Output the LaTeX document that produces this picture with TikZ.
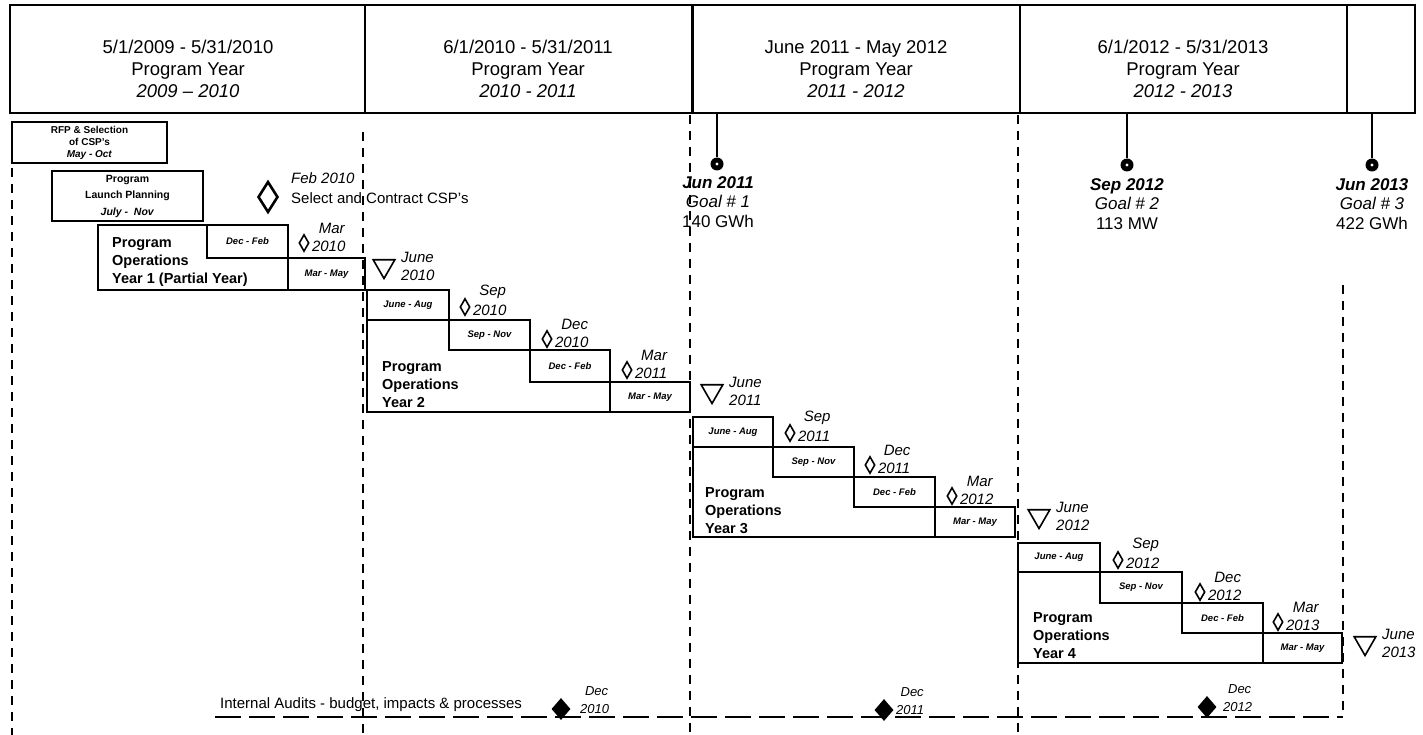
\documentclass[tikz,border=0pt]{standalone}
\usepackage{fontspec}
\setmainfont{Liberation Sans}
\usetikzlibrary{shapes.geometric}
\newcommand{\tbox}[6]{\node[tinybox, minimum width={(#4-#2)*1pt}, minimum height={(#5-#3)*1pt}] (#1) at ({(#2+#4)/2},{(#3+#5)/2}) {#6};}
\newcommand{\hcell}[5]{\node[hdrcell, minimum width={(#4-#2)*1pt}, minimum height={(#5-#3)*1pt}] (#1) at ({(#2+#4)/2},{(#3+#5)/2}) {};}
\newcommand{\msd}[5]{%
  \node[msdia] (#1) at (#2,#3) {};
  \node[mstxt, anchor=west] (#1y) at ([xshift=2pt,yshift=-3pt]#1.east) {#5};
  \node[mstxt] (#1m) at ([xshift=3pt,yshift=18pt]#1y.center) {#4};}
\newcommand{\trim}[4]{%
  \node[tri] (#1) at (#2,#3) {};
  \node[mstxt, anchor=west] (#1m) at ([xshift=17pt,yshift=9pt]#1.center) {June};
  \node[mstxt, anchor=west] (#1y) at ([xshift=17pt,yshift=-9pt]#1.center) {#4};}
\newcommand{\audit}[5]{%
  \node[auddia] (#1) at (#2,#3) {};
  \node[audtxt, anchor=west] (#1y) at ([xshift=#5]#1.center) {#4};
  \node[audtxt] (#1m) at ([xshift=2pt,yshift=18pt]#1y.center) {Dec};}
\begin{document}
\begin{tikzpicture}[x=1pt,y=-1pt,line join=miter,
  hdrcell/.style={draw, line width=1.8pt, inner sep=0, outer sep=0},
  hdrtext/.style={align=center, inner sep=0, font=\fontsize{18.5}{22}\selectfont},
  boxline/.style={line width=1.8pt},
  tinybox/.style={draw, line width=1.8pt, inner sep=0, outer sep=0, font=\fontsize{9.5}{11}\selectfont\bfseries\itshape},
  smalltext/.style={align=center, inner sep=0, font=\fontsize{10}{12}\selectfont\bfseries},
  progtext/.style={align=left, anchor=north west, inner sep=0, font=\fontsize{14.5}{18}\selectfont\bfseries},
  msdia/.style={draw, diamond, line width=1.6pt, inner sep=0, minimum width=10pt, minimum height=17pt},
  bigdia/.style={draw, diamond, line width=2.6pt, inner sep=0, minimum width=20pt, minimum height=31pt},
  auddia/.style={fill=black, diamond, inner sep=0, minimum width=19pt, minimum height=22pt},
  tri/.style={draw, regular polygon, regular polygon sides=3, shape border rotate=180, line width=1.6pt, inner sep=0, minimum size=25pt},
  mstxt/.style={inner sep=0, font=\fontsize{15}{17}\selectfont\itshape},
  audtxt/.style={inner sep=0, font=\fontsize{13}{15}\selectfont\itshape},
  goaldot/.style={circle, fill=black, inner sep=0, minimum size=13pt},
  goalline/.style={line width=2pt},
  goaltext/.style={align=center, inner sep=0, font=\fontsize{17}{19.5}\selectfont},
  vdash/.style={line width=1.2pt, dash pattern=on 9pt off 7pt},
  hdash/.style={line width=1.2pt, dash pattern=on 26pt off 8pt}]
\useasboundingbox (0,0) rectangle (1423,735);
\fill[white] (0,0) rectangle (1423,735);

% vertical dashed guides
\coordinate (v0t) at (12,168);   \coordinate (v0b) at (12,735);
\coordinate (v1t) at (363,132);  \coordinate (v1b) at (363,735);
\coordinate (v2t) at (690,115);  \coordinate (v2b) at (690,735);
\coordinate (v3t) at (1018,115); \coordinate (v3b) at (1018,735);
\coordinate (v4t) at (1343,285); \coordinate (v4b) at (1343,716);
\foreach \v in {0,1,2,3,4} {\draw[vdash] (v\v t) -- (v\v b);}

% header
\hcell{h1}{10}{5}{365}{113}
\hcell{h2}{365}{5}{692}{113}
\hcell{h3}{692}{5}{1020}{113}
\hcell{h4}{1020}{5}{1347}{113}
\hcell{h5}{1347}{5}{1415}{113}
\draw[line width=3pt] (h3.north west) -- (h3.south west);
\node[hdrtext] (h1t) at (188,69) {5/1/2009 - 5/31/2010\\Program Year\\\textit{2009 -- 2010}};
\node[hdrtext] (h2t) at (528,69) {6/1/2010 - 5/31/2011\\Program Year\\\textit{2010 - 2011}};
\node[hdrtext] (h3t) at (856,69) {June 2011 - May 2012\\Program Year\\\textit{2011 - 2012}};
\node[hdrtext] (h4t) at (1183,69) {6/1/2012 - 5/31/2013\\Program Year\\\textit{2012 - 2013}};

% goals
\coordinate (g1t) at (717,113); \node[goaldot] (g1) at (717,164) {};
\coordinate (g2t) at (1127,113); \node[goaldot] (g2) at (1127,165) {};
\coordinate (g3t) at (1372,113); \node[goaldot] (g3) at (1372,165) {};
\foreach \g in {1,2,3} {\draw[goalline] (g\g t) -- (g\g.north); \fill[white] (g\g) circle (1.7);}
\node[goaltext, anchor=north] (g1x) at (718,176) {\textbf{\textit{Jun 2011}}\\\textit{Goal \# 1}\\140 GWh};
\node[goaltext, anchor=north] (g2x) at (1127,178) {\textbf{\textit{Sep 2012}}\\\textit{Goal \# 2}\\113 MW};
\node[goaltext, anchor=north] (g3x) at (1372,178) {\textbf{\textit{Jun 2013}}\\\textit{Goal \# 3}\\422 GWh};

% early tasks
\node[draw, line width=1.8pt, inner sep=0, outer sep=0, minimum width=155pt, minimum height=41pt, smalltext] (rfp) at (89.5,142.5) {RFP \& Selection\\of CSP's\\\textit{May - Oct}};
\node[draw, line width=1.8pt, inner sep=0, outer sep=0, minimum width=151pt, minimum height=50pt, smalltext, font=\fontsize{10.5}{16.5}\selectfont\bfseries] (lp) at (127.5,196) {Program\\Launch Planning\\\textit{July -\ \ Nov}};
\node[bigdia] (sel) at (268,197) {};
\node[inner sep=0, anchor=west, font=\fontsize{15}{17}\selectfont\itshape] (selm) at (291,178) {Feb 2010};
\node[inner sep=0, anchor=west, font=\fontsize{15}{17}\selectfont] (selt) at (291,198) {Select and Contract CSP's};

% year 1
\tbox{y1b}{207}{225}{288}{258}{Dec - Feb}
\tbox{y1c}{288}{258}{365}{290}{Mar - May}
\draw[boxline] (y1b.north west) -- ++(-109,0) |- (y1c.south west);
\node[progtext] (p1) at (112,237) {Program\\Operations\\Year 1 (Partial Year)};
\msd{m10a}{304}{243}{Mar}{2010}
\trim{t10}{384}{266}{2010}

% year 2
\tbox{y2a}{367}{290}{449}{320}{June - Aug}
\tbox{y2b}{449}{320}{530}{350}{Sep - Nov}
\tbox{y2c}{530}{350}{610}{382}{Dec - Feb}
\tbox{y2d}{610}{382}{690}{412}{Mar - May}
\draw[boxline] (y2a.south west) |- (y2d.south west);
\node[progtext] (p2) at (382,361) {Program\\Operations\\Year 2};
\msd{m10b}{465}{307}{Sep}{2010}
\msd{m10c}{547}{339}{Dec}{2010}
\msd{m11a}{627}{370}{Mar}{2011}
\trim{t11}{712}{391}{2011}

% year 3
\tbox{y3a}{693}{417}{773}{447}{June - Aug}
\tbox{y3b}{773}{447}{854}{477}{Sep - Nov}
\tbox{y3c}{854}{477}{935}{507}{Dec - Feb}
\tbox{y3d}{935}{507}{1015}{537}{Mar - May}
\draw[boxline] (y3a.south west) |- (y3d.south west);
\node[progtext] (p3) at (705,487) {Program\\Operations\\Year 3};
\msd{m11b}{790}{433}{Sep}{2011}
\msd{m11c}{870}{465}{Dec}{2011}
\msd{m12a}{952}{496}{Mar}{2012}
\trim{t12}{1039}{516}{2012}

% year 4
\tbox{y4a}{1018}{543}{1100}{572}{June - Aug}
\tbox{y4b}{1100}{572}{1182}{603}{Sep - Nov}
\tbox{y4c}{1182}{603}{1263}{633}{Dec - Feb}
\tbox{y4d}{1263}{633}{1342}{663}{Mar - May}
\draw[boxline] (y4a.south west) |- (y4d.south west);
\node[progtext] (p4) at (1033,612) {Program\\Operations\\Year 4};
\msd{m12b}{1118}{560}{Sep}{2012}
\msd{m12c}{1200}{592}{Dec}{2012}
\msd{m13a}{1278}{622}{Mar}{2013}
\trim{t13}{1365}{643}{2013}

% internal audits
\node[inner sep=0, anchor=west, font=\fontsize{15}{17}\selectfont] (aud) at (220,705) {Internal Audits - budget, impacts \& processes};
\coordinate (al) at (215,717); \coordinate (ar) at (1343,717);
\draw[hdash] (al) -- (ar);
\audit{a10}{561}{709}{2010}{19pt}
\audit{a11}{884}{710}{2011}{12pt}
\audit{a12}{1207}{707}{2012}{16pt}
\end{tikzpicture}
\end{document}
